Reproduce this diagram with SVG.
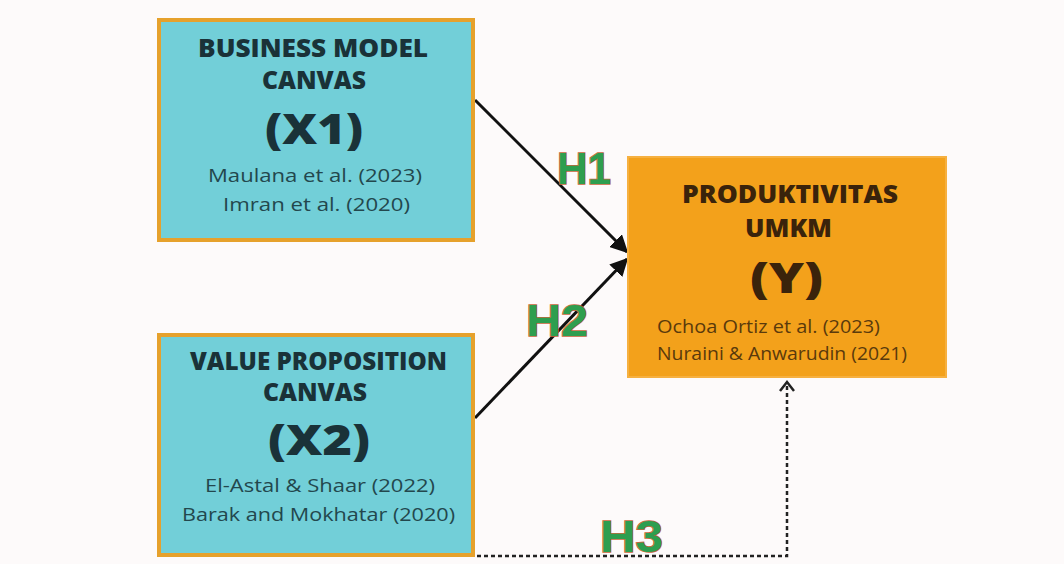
<svg xmlns="http://www.w3.org/2000/svg" width="1064" height="564" viewBox="0 0 1064 564">
<style>
.bx{fill:#72cfd8;stroke:#e6a12c;stroke-width:4}
.by{fill:#f3a11b;stroke:#f6b040;stroke-width:2}
.hd{font-family:"Open Sans","Liberation Sans",sans-serif;font-weight:800;font-size:24px}
.big{font-family:"Open Sans","Liberation Sans",sans-serif;font-weight:800;font-size:42px}
.ct{font-family:"Open Sans","Liberation Sans",sans-serif;font-weight:400;font-size:19px}
.cy{fill:#1a3238}
.cyc{fill:#23474d}
.oy{fill:#3a230b}
.oyc{fill:#5a3a0c}
.h{font-family:"Liberation Sans",Arial,sans-serif;font-weight:700;font-size:45px;fill:#2e9e4f;stroke:#c8643c;stroke-width:1.6;paint-order:stroke}
.ln{stroke:#111;stroke-width:3;fill:none}
.dt{stroke:#222;stroke-width:2.5;fill:none;stroke-dasharray:4 3}
</style>
<defs>
<marker id="ah" viewBox="0 0 10 10" refX="9" refY="5" markerWidth="6" markerHeight="6" orient="auto" markerUnits="strokeWidth">
<path d="M0,0 L10,5 L0,10 z" fill="#111"/>
</marker>
</defs>
<rect width="1064" height="564" fill="#fdfafa"/>
<g id="connectors">
<line class="ln" x1="475" y1="100" x2="627" y2="252" marker-end="url(#ah)"/>
<line class="ln" x1="475" y1="418" x2="627" y2="259" marker-end="url(#ah)"/>
<polyline class="dt" points="477,556 787,556 787,384"/>
<polyline points="780,391 787,382 794,391" fill="none" stroke="#222" stroke-width="2.5"/>
<text class="h" x="557" y="184" textLength="54" lengthAdjust="spacingAndGlyphs">H1</text>
<text class="h" x="526" y="336" textLength="62" lengthAdjust="spacingAndGlyphs">H2</text>
<text class="h" x="600" y="552" textLength="63" lengthAdjust="spacingAndGlyphs">H3</text>
</g>
<g id="x1">
<rect class="bx" x="159" y="20" width="314" height="220"/>
<text class="hd cy" x="198" y="57" textLength="230" lengthAdjust="spacingAndGlyphs">BUSINESS MODEL</text>
<text class="hd cy" x="262" y="89" textLength="104" lengthAdjust="spacingAndGlyphs">CANVAS</text>
<text class="big cy" x="265" y="144" textLength="98" lengthAdjust="spacingAndGlyphs">(X1)</text>
<text class="ct cyc" x="208" y="182" textLength="214" lengthAdjust="spacingAndGlyphs">Maulana et al. (2023)</text>
<text class="ct cyc" x="223" y="211" textLength="187" lengthAdjust="spacingAndGlyphs">Imran et al. (2020)</text>
</g>
<g id="x2">
<rect class="bx" x="159" y="335" width="314" height="220"/>
<text class="hd cy" x="190" y="370" textLength="257" lengthAdjust="spacingAndGlyphs">VALUE PROPOSITION</text>
<text class="hd cy" x="263" y="401" textLength="104" lengthAdjust="spacingAndGlyphs">CANVAS</text>
<text class="big cy" x="268" y="455" textLength="102" lengthAdjust="spacingAndGlyphs">(X2)</text>
<text class="ct cyc" x="205" y="492" textLength="230" lengthAdjust="spacingAndGlyphs">El-Astal &amp; Shaar (2022)</text>
<text class="ct cyc" x="182" y="521" textLength="273" lengthAdjust="spacingAndGlyphs">Barak and Mokhatar (2020)</text>
</g>
<g id="y">
<rect class="by" x="628" y="157" width="318" height="220"/>
<text class="hd oy" x="682" y="203" textLength="216" lengthAdjust="spacingAndGlyphs">PRODUKTIVITAS</text>
<text class="hd oy" x="745" y="237" textLength="87" lengthAdjust="spacingAndGlyphs">UMKM</text>
<text class="big oy" x="750" y="293" textLength="73" lengthAdjust="spacingAndGlyphs">(Y)</text>
<text class="ct oyc" x="657" y="333" font-size="18" textLength="223" lengthAdjust="spacingAndGlyphs">Ochoa Ortiz et al. (2023)</text>
<text class="ct oyc" x="657" y="360" font-size="18" textLength="250" lengthAdjust="spacingAndGlyphs">Nuraini &amp; Anwarudin (2021)</text>
</g>
</svg>
